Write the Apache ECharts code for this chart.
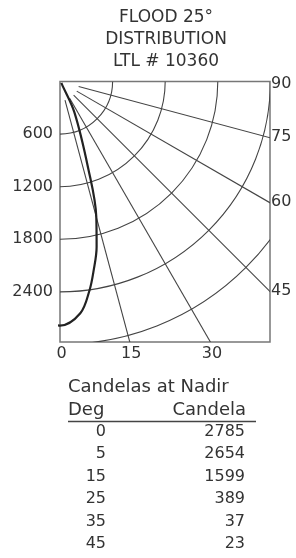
<!DOCTYPE html>
<html>
<head>
<meta charset="utf-8">
<script src="https://cdn.jsdelivr.net/npm/echarts@6/dist/echarts.min.js"></script>
<style>
  html, body { margin: 0; padding: 0; background: #fff; }
  #chart { width: 296px; height: 558px; }
</style>
</head>
<body>
<div id="chart"></div>
<script>
// candelas at nadir table (degrees from nadir -> candela)
const tableDeg = [0, 5, 15, 25, 35, 45];
const tableCd = [2785, 2654, 1599, 389, 37, 23];

// distribution curve as drawn (table points plus readings;
// -5° mirrors the symmetric beam and lies outside the box)
const curveDeg = [-5, 0, 5, 8, 10, 12.5, 15, 18, 25, 35, 45];
const curveCd = [2654, 2785, 2654, 2410, 2200, 1930, 1599, 1040, 389, 37, 23];

// polar grid: iso-candela arcs and angle spokes
const arcCd = [600, 1200, 1800, 2400, 3000];
const spokeDeg = [15, 30, 45, 60, 75];
const rightDeg = [90, 75, 60, 45];
const bottomDeg = [0, 15, 30];

const titleLines = ['FLOOD 25°', 'DISTRIBUTION', 'LTL # 10360'];

const FONT = "'DejaVu Sans', sans-serif";
const INK = '#333';
const LINE = '#444';

// box in px, 600 cd = 52.6 px
const box = { left: 60, top: 81.5, width: 210, height: 260.5 };
const pxPer600 = 52.6;
const xMax = box.width / pxPer600 * 600;
const yMax = box.height / pxPer600 * 600;
const spokeStart = 220;
const spokeEnd = 6000;

const rad = (d) => d * Math.PI / 180;

const chart = echarts.init(document.getElementById('chart'));

// px per candela, read back from the axis scale
function scaleOf(api) {
  const o = api.coord([0, 0]);
  const p = api.coord([0, 600]);
  return { o, k: (p[1] - o[1]) / 600 };
}

const toXY = (d, c) => [c * Math.sin(rad(d)), c * Math.cos(rad(d))];
const curveData = curveDeg.map((d, i) => toXY(d, curveCd[i]));

const graphics = [];
titleLines.forEach((t, i) => {
  graphics.push({
    type: 'text', x: 166, y: 18 + i * 22,
    style: { text: t, font: '17px ' + FONT, fill: INK, align: 'center', verticalAlign: 'middle' }
  });
});
graphics.push({
  type: 'text', x: 68, y: 387,
  style: { text: 'Candelas at Nadir', font: '18px ' + FONT, fill: INK, align: 'left', verticalAlign: 'middle' }
});
graphics.push({
  type: 'text', x: 68, y: 410,
  style: { text: 'Deg', font: '18px ' + FONT, fill: INK, align: 'left', verticalAlign: 'middle' }
});
graphics.push({
  type: 'text', x: 246, y: 410,
  style: { text: 'Candela', font: '18px ' + FONT, fill: INK, align: 'right', verticalAlign: 'middle' }
});
graphics.push({
  type: 'line', shape: { x1: 68, y1: 421.5, x2: 256, y2: 421.5 },
  style: { stroke: '#444', lineWidth: 1.3 }
});
tableDeg.forEach((d, i) => {
  const y = 431.7 + i * 22.5;
  graphics.push({
    type: 'text', x: 106, y,
    style: { text: String(d), font: '16px ' + FONT, fill: INK, align: 'right', verticalAlign: 'middle' }
  });
  graphics.push({
    type: 'text', x: 245, y,
    style: { text: String(tableCd[i]), font: '16px ' + FONT, fill: INK, align: 'right', verticalAlign: 'middle' }
  });
});

chart.setOption({
  animation: false,
  grid: {
    left: box.left, top: box.top, width: box.width, height: box.height,
    show: true, borderColor: '#777', borderWidth: 1.5, backgroundColor: 'transparent'
  },
  xAxis: {
    type: 'value', min: 0, max: xMax,
    axisLine: { show: false }, axisTick: { show: false },
    axisLabel: { show: false }, splitLine: { show: false }
  },
  yAxis: {
    type: 'value', inverse: true, min: 0, max: yMax, interval: 600,
    axisLine: { show: false }, axisTick: { show: false }, splitLine: { show: false },
    axisLabel: {
      margin: 7, color: INK, fontFamily: FONT, fontSize: 16,
      formatter: (v) => (v > 0 && v % 600 === 0 ? String(v) : '')
    }
  },
  graphic: graphics,
  series: [
    {
      // iso-candela arcs
      type: 'custom', clip: true, silent: true,
      data: arcCd.map((c) => [c]),
      renderItem: (params, api) => {
        const { o, k } = scaleOf(api);
        return {
          type: 'arc',
          shape: { cx: o[0], cy: o[1], r: api.value(0) * k, startAngle: 0, endAngle: Math.PI / 2 },
          style: { stroke: LINE, fill: null, lineWidth: 1.1 }
        };
      }
    },
    {
      // angle spokes
      type: 'custom', clip: true, silent: true,
      data: spokeDeg.map((d) => [d]),
      renderItem: (params, api) => {
        const { o, k } = scaleOf(api);
        const a = rad(api.value(0));
        return {
          type: 'line',
          shape: {
            x1: o[0] + spokeStart * k * Math.sin(a), y1: o[1] + spokeStart * k * Math.cos(a),
            x2: o[0] + spokeEnd * k * Math.sin(a), y2: o[1] + spokeEnd * k * Math.cos(a)
          },
          style: { stroke: LINE, lineWidth: 1.1 }
        };
      }
    },
    {
      // angle labels on the right edge
      type: 'custom', clip: false, silent: true,
      data: rightDeg.map((d) => [d]),
      renderItem: (params, api) => {
        const d = api.value(0);
        const y = d === 90 ? 0 : xMax / Math.tan(rad(d));
        const p = api.coord([xMax, y]);
        return {
          type: 'text', x: p[0] + 1, y: p[1] + (d === 90 ? 2.5 : -1),
          style: { text: String(d), font: '16px ' + FONT, fill: INK, align: 'left', verticalAlign: 'middle' }
        };
      }
    },
    {
      // angle labels on the bottom edge
      type: 'custom', clip: false, silent: true,
      data: bottomDeg.map((d) => [d]),
      renderItem: (params, api) => {
        const d = api.value(0);
        const p = api.coord([yMax * Math.tan(rad(d)), yMax]);
        return {
          type: 'text', x: p[0] + 1.5, y: p[1] + 12,
          style: { text: String(d), font: '16px ' + FONT, fill: INK, align: 'center', verticalAlign: 'middle' }
        };
      }
    },
    {
      // candela distribution curve
      type: 'line', data: curveData, smooth: 0.35, symbol: 'none', clip: true,
      lineStyle: { color: '#222', width: 2.2 }
    }
  ]
});
</script>
</body>
</html>
